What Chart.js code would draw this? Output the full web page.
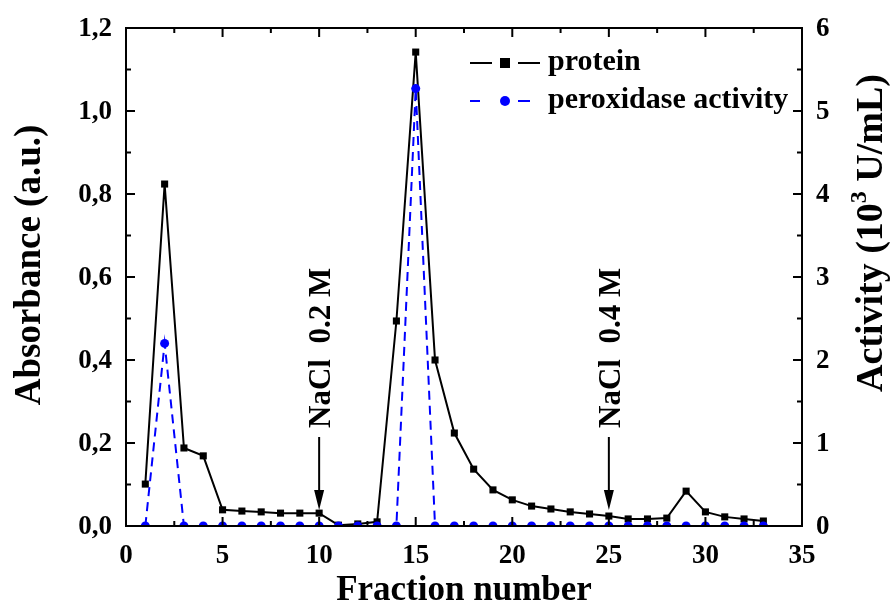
<!DOCTYPE html>
<html>
<head>
<meta charset="utf-8">
<script src="https://cdn.jsdelivr.net/npm/chart.js@4.4.1/dist/chart.umd.min.js"></script>
<style>
  html, body { margin: 0; padding: 0; background: #fff; }
  #wrap { width: 890px; height: 608px; }
</style>
</head>
<body>
<div id="wrap"><canvas id="chart" width="890" height="608"></canvas></div>
<script>
const fractions = [1, 2, 3, 4, 5, 6, 7, 8, 9, 10, 11, 12, 13, 14, 15, 16, 17, 18, 19, 20, 21, 22, 23, 24, 25, 26, 27, 28, 29, 30, 31, 32, 33];
const protein = [0.101, 0.824, 0.188, 0.169, 0.039, 0.036, 0.034, 0.031, 0.031, 0.031, 0.002, 0.005, 0.010, 0.494, 1.142, 0.400, 0.224, 0.137, 0.087, 0.063, 0.048, 0.041, 0.034, 0.029, 0.024, 0.017, 0.017, 0.019, 0.084, 0.034, 0.022, 0.017, 0.012];
const activity = [0, 2.2, 0, 0, 0, 0, 0, 0, 0, 0, 0, 0, 0, 0, 5.27, 0, 0, 0, 0, 0, 0, 0, 0, 0, 0, 0, 0, 0, 0, 0, 0, 0, 0];
const xTicks = [0, 5, 10, 15, 20, 25, 30, 35];
const yTicks = [0, 0.2, 0.4, 0.6, 0.8, 1.0, 1.2];
const y2Ticks = [0, 1, 2, 3, 4, 5, 6];
const markers = [{ x: 10, text: 'NaCl  0.2 M' }, { x: 25, text: 'NaCl  0.4 M' }];

const serif = '"Liberation Serif", "Times New Roman", serif';
const bold = size => 'bold ' + size + 'px ' + serif;

// draws the frame, inward ticks, all labels, arrows and the legend
const frame = {
    id: 'frame',
    afterDraw(chart) {
        const ctx = chart.ctx;
        const a = chart.chartArea;
        const xs = chart.scales.x, ys = chart.scales.y, y2 = chart.scales.y2;
        ctx.save();
        ctx.strokeStyle = '#000';
        ctx.fillStyle = '#000';
        ctx.lineWidth = 2;
        ctx.strokeRect(a.left, a.top, a.right - a.left, a.bottom - a.top);

        ctx.beginPath();
        for (let v = 0; v <= 35; v += 2.5) {
            const px = xs.getPixelForValue(v);
            const len = v % 5 === 0 ? 9 : 5;
            ctx.moveTo(px, a.bottom); ctx.lineTo(px, a.bottom - len);
            ctx.moveTo(px, a.top); ctx.lineTo(px, a.top + len);
        }
        for (let i = 0; i <= 12; i++) {
            const py = ys.getPixelForValue(i / 10);
            ctx.moveTo(a.left, py); ctx.lineTo(a.left + (i % 2 === 0 ? 9 : 5), py);
            const py2 = y2.getPixelForValue(i / 2);
            ctx.moveTo(a.right, py2); ctx.lineTo(a.right - (i % 2 === 0 ? 9 : 5), py2);
        }
        ctx.stroke();

        // tick labels
        ctx.font = bold(27);
        ctx.textBaseline = 'middle';
        ctx.textAlign = 'center';
        xTicks.forEach(v => ctx.fillText(String(v), xs.getPixelForValue(v), 556));
        ctx.textAlign = 'right';
        yTicks.forEach(v => ctx.fillText(v.toFixed(1).replace('.', ','), 112, ys.getPixelForValue(v) + 1));
        ctx.textAlign = 'left';
        y2Ticks.forEach(v => ctx.fillText(String(v), 816, y2.getPixelForValue(v) + 1));

        // axis titles
        ctx.textAlign = 'center';
        ctx.font = bold(35);
        ctx.fillText('Fraction number', (a.left + a.right) / 2, 591);

        ctx.save();
        ctx.translate(30, 265);
        ctx.rotate(-Math.PI / 2);
        ctx.font = bold(37);
        ctx.fillText('Absorbance (a.u.)', 0, 0);
        ctx.restore();

        ctx.save();
        ctx.translate(872, 233);
        ctx.rotate(-Math.PI / 2);
        ctx.textAlign = 'left';
        const p1 = 'Activity (10', p2 = '3', p3 = ' U/mL)';
        ctx.font = bold(38);
        const w1 = ctx.measureText(p1).width, w3 = ctx.measureText(p3).width;
        ctx.font = bold(24);
        const w2 = ctx.measureText(p2).width;
        const x0 = -(w1 + w2 + w3) / 2;
        ctx.font = bold(38);
        ctx.fillText(p1, x0, 0);
        ctx.font = bold(24);
        ctx.fillText(p2, x0 + w1, -12);
        ctx.font = bold(38);
        ctx.fillText(p3, x0 + w1 + w2, 0);
        ctx.restore();

        // NaCl markers
        markers.forEach(m => {
            const px = xs.getPixelForValue(m.x);
            ctx.save();
            ctx.translate(px + 11, 428);
            ctx.rotate(-Math.PI / 2);
            ctx.textAlign = 'left';
            ctx.textBaseline = 'alphabetic';
            ctx.font = bold(31);
            ctx.fillText(m.text, 0, 0);
            ctx.restore();
            ctx.beginPath();
            ctx.lineWidth = 2;
            ctx.moveTo(px, 437); ctx.lineTo(px, 495);
            ctx.stroke();
            ctx.beginPath();
            ctx.moveTo(px - 5, 490); ctx.lineTo(px, 510); ctx.lineTo(px + 5, 490);
            ctx.closePath();
            ctx.fill();
        });

        // legend
        ctx.lineWidth = 2;
        ctx.beginPath();
        ctx.moveTo(470, 63); ctx.lineTo(492, 63);
        ctx.moveTo(518, 63); ctx.lineTo(540, 63);
        ctx.stroke();
        ctx.fillRect(500, 58, 10, 10);
        ctx.strokeStyle = '#0000ff';
        ctx.fillStyle = '#0000ff';
        ctx.beginPath();
        ctx.moveTo(470, 101); ctx.lineTo(480, 101);
        ctx.moveTo(518, 101); ctx.lineTo(530, 101);
        ctx.stroke();
        ctx.beginPath();
        ctx.arc(505, 101, 5, 0, Math.PI * 2);
        ctx.fill();
        ctx.fillStyle = '#000';
        ctx.font = bold(30);
        ctx.textAlign = 'left';
        ctx.textBaseline = 'middle';
        ctx.fillText('protein', 548, 62);
        ctx.fillText('peroxidase activity', 548, 100);
        ctx.restore();
    }
};

new Chart(document.getElementById('chart'), {
    type: 'line',
    data: {
        datasets: [{
            label: 'peroxidase activity',
            data: fractions.map((f, i) => ({ x: f, y: activity[i] })),
            yAxisID: 'y2',
            borderColor: '#0000ff',
            backgroundColor: '#0000ff',
            borderWidth: 2,
            borderDash: [9, 6],
            pointStyle: 'circle',
            pointRadius: 4.5,
            pointBorderWidth: 0,
            tension: 0
        }, {
            label: 'protein',
            data: fractions.map((f, i) => ({ x: f, y: protein[i] })),
            yAxisID: 'y',
            borderColor: '#000',
            backgroundColor: '#000',
            borderWidth: 2,
            pointStyle: 'rect',
            pointRadius: 5,
            pointBorderWidth: 0,
            tension: 0
        }]
    },
    options: {
        responsive: false,
        animation: false,
        layout: { padding: { left: 0, right: 0, top: 28, bottom: 0 } },
        plugins: { legend: { display: false }, tooltip: { enabled: false } },
        scales: {
            x: {
                type: 'linear',
                min: 0, max: 35,
                grid: { display: false },
                border: { display: false },
                ticks: { display: false },
                afterFit: s => { s.height = 82; }
            },
            y: {
                position: 'left',
                min: 0, max: 1.2,
                grid: { display: false },
                border: { display: false },
                ticks: { display: false },
                afterFit: s => { s.width = 126; }
            },
            y2: {
                position: 'right',
                min: 0, max: 6,
                grid: { display: false },
                border: { display: false },
                ticks: { display: false },
                afterFit: s => { s.width = 88; }
            }
        }
    },
    plugins: [frame]
});
</script>
</body>
</html>
